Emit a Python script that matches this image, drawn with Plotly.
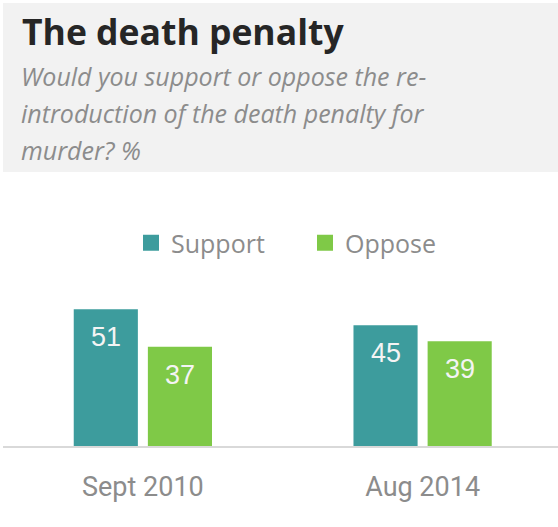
import plotly.graph_objects as go

categories = ["Sept 2010", "Aug 2014"]
support = [51, 45]
oppose = [37, 39]
series_names = ["Support", "Oppose"]
title_text = "The death penalty"
subtitle_lines = [
    "Would you support or oppose the re-",
    "introduction of the death penalty for",
    "murder? %",
]

TEAL = "#3d9c9d"
GREEN = "#7fc947"
W, H = 558, 527
ML, MR, MT, MB = 3, 0, 285, 81
PW, PH = W - ML - MR, H - MT - MB


def px_x(p):
    return (p - ML) / PW


def px_y(p):
    return (H - MB - p) / PH


fig = go.Figure()
for name, vals, col in [(series_names[0], support, TEAL), (series_names[1], oppose, GREEN)]:
    fig.add_trace(go.Bar(x=categories, y=vals, name=name, marker=dict(color=col, line=dict(width=0)),
                         showlegend=False, hoverinfo="skip"))
    fig.add_trace(go.Scatter(x=[None], y=[None], mode="markers", name=name,
                             marker=dict(symbol="square", size=17, color=col)))

annotations = []
for i, cat in enumerate(categories):
    for vals, shift in [(support, -37), (oppose, 37)]:
        annotations.append(dict(x=cat, y=vals[i], xref="x", yref="y", text=str(vals[i]),
                                showarrow=False, yanchor="top", xanchor="center", xshift=shift,
                                yshift=-11,
                                font=dict(family="Liberation Sans, Arial", size=27, color="#f4f4f4")))

annotations.append(dict(x=px_x(20), y=px_y(31), xref="paper", yref="paper", text="<b>" + title_text + "</b>",
                        showarrow=False, xanchor="left", yanchor="middle",
                        font=dict(family="Open Sans", size=35.5, color="#262626")))
for k, line in enumerate(subtitle_lines):
    annotations.append(dict(x=px_x(19), y=px_y(76 + 37 * k), xref="paper", yref="paper",
                            text="<i>" + line + "</i>", showarrow=False, xanchor="left", yanchor="middle",
                            font=dict(family="Open Sans", size=25, color="#8c8c8c")))

fig.update_layout(
    width=W, height=H,
    margin=dict(l=ML, r=MR, t=MT, b=MB),
    paper_bgcolor="white", plot_bgcolor="white",
    barmode="group", bargap=0.47, bargroupgap=0.135,
    xaxis=dict(range=[-0.5, 1.484], showgrid=False, showline=True, linecolor="#d9d9d9", linewidth=1.5,
               ticks="", tickfont=dict(family="Roboto", size=27, color="#8c8c8c"), ticklabelstandoff=16),
    yaxis=dict(range=[0, 60], visible=False),
    legend=dict(orientation="h", x=px_x(131), y=px_y(243), xanchor="left", yanchor="middle",
                font=dict(family="Open Sans", size=25, color="#8c8c8c"), itemwidth=30,
                entrywidth=129, entrywidthmode="pixels",
                bgcolor="rgba(0,0,0,0)"),
    shapes=[dict(type="rect", xref="paper", yref="paper", x0=0, x1=1, y0=px_y(172), y1=px_y(3),
                 fillcolor="#f2f2f2", line=dict(width=0), layer="below")],
    annotations=annotations,
    showlegend=True,
)

fig.write_html("out.html", config={"displayModeBar": False},
               post_script="document.body.style.margin='0';document.body.style.padding='0';")
